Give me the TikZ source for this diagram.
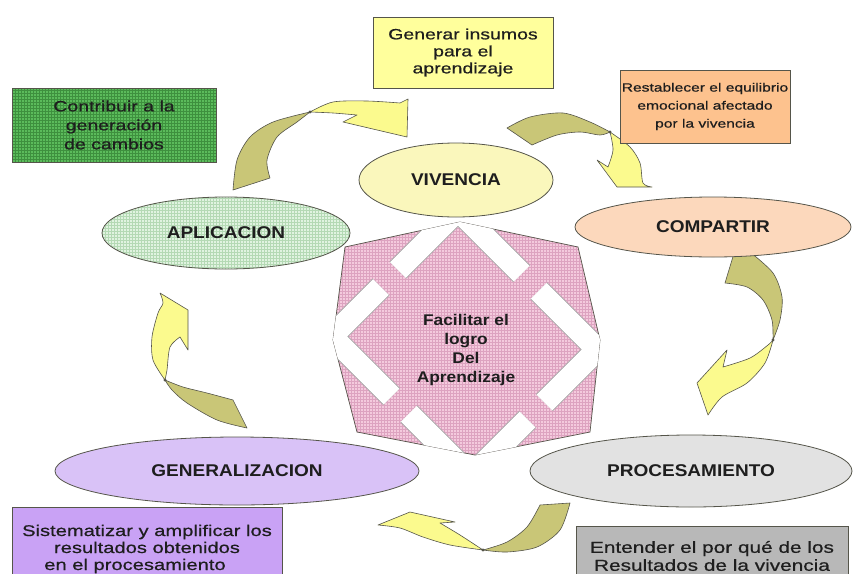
\documentclass[tikz,border=0pt]{standalone}
\usepackage{fontspec}
\setmainfont{Liberation Sans}[FakeStretch=1.12]
\newfontfamily\boxfont{Liberation Sans}[FakeStretch=1.3, FakeBold=0.6]
\usetikzlibrary{shapes.geometric,patterns,calc}
\definecolor{pinkf}{HTML}{F4CADD}
\definecolor{pinkp}{HTML}{DDA3C0}
\definecolor{greenbox}{HTML}{5BBB5B}
\definecolor{greenp}{HTML}{3E903E}
\definecolor{aplif}{HTML}{E0F3E0}
\definecolor{aplip}{HTML}{B4D9B4}
\definecolor{vivf}{HTML}{FAF7BC}
\definecolor{compf}{HTML}{FCD8BC}
\definecolor{genf}{HTML}{D9C2F7}
\definecolor{procf}{HTML}{E2E2E2}
\definecolor{genbox}{HTML}{FFFF9C}
\definecolor{resbox}{HTML}{FDC28E}
\definecolor{sisbox}{HTML}{C9A2F5}
\definecolor{entbox}{HTML}{B8B8B8}
\definecolor{olivef}{HTML}{C9C677}
\definecolor{yelf}{HTML}{FBFA8E}
\definecolor{edgec}{HTML}{55554A}
\definecolor{txt}{HTML}{1E1E1E}
\begin{document}
\begin{tikzpicture}[x=1pt,y=-1pt,
  ell/.style={ellipse, draw=edgec, line width=0.8pt, inner sep=0pt,
    font=\fontsize{17}{20}\selectfont\bfseries, text=txt},
  boxst/.style={rectangle, draw=edgec, line width=0.8pt, inner sep=0pt,
    align=center, text=txt},
  olive/.style={fill=olivef, draw=edgec, line width=0.6pt, line join=round},
  yell/.style={fill=yelf, draw=edgec, line width=0.6pt, line join=round},
  knot/.style={fill=edgec},
  barout/.style={draw=gray!70, line width=24pt, line join=miter},
  barin/.style={draw=white, line width=22pt, line join=miter}]
\useasboundingbox (0,0) rectangle (854,573);
\fill[white] (0,0) rectangle (854,573);

% central octagon
\def\octa{(460,222) -- (578,247) -- (600,340) -- (590,432) -- (475,455) -- (357,432) -- (333,340) -- (345,247) -- cycle}
\fill[pinkf] \octa;
\fill[pattern=grid, pattern color=pinkp] \octa;
\draw[edgec, line width=0.7pt] \octa;
\begin{scope}
  \clip \octa;
  \coordinate (dT) at (458,210);
  \coordinate (dR) at (597.5,349.5);
  \coordinate (dB) at (471,476);
  \coordinate (dL) at (331.5,336.5);
  \foreach \s in {barout,barin}{
    \draw[\s] ($(dT)!85pt!(dL)$) -- (dT) -- ($(dT)!90pt!(dR)$);
    \draw[\s] ($(dL)!70pt!(dT)$) -- (dL) -- ($(dL)!85pt!(dB)$);
    \draw[\s] ($(dR)!83pt!(dT)$) -- (dR) -- ($(dR)!75pt!(dB)$);
    \draw[\s] ($(dB)!88pt!(dL)$) -- (dB) -- ($(dB)!80pt!(dR)$);
  }
\end{scope}
\node[font=\fontsize{15.5}{19}\selectfont\bfseries, text=txt, align=center] (centro) at (466,350)
  {Facilitar el\\logro\\Del\\Aprendizaje};

% ribbon arrows
% A: aplicacion -> generar
\path[olive] plot[smooth] coordinates {(233,190) (237,160) (250,137) (273,122) (310,112)}
  -- plot[smooth] coordinates {(310,112) (297,122) (277,137) (267,160) (270,178)} -- cycle;
\path[yell] plot[smooth] coordinates {(310,112) (333,102) (367,101) (400,103)} -- (408,99) -- (407,137)
  -- (343,122) -- (357,115) -- plot[smooth] coordinates {(357,115) (333,113) (310,112)} -- cycle;
\fill[knot] (310,112) circle (1.6);
% B: vivencia -> compartir
\path[olive] plot[smooth] coordinates {(507,128) (530,117) (563,113) (590,122) (610,132)}
  -- plot[smooth] coordinates {(610,132) (600,135) (580,132) (557,135) (532,145)} -- cycle;
\path[yell] plot[smooth] coordinates {(610,132) (630,147) (640,163) (643,183) (652,187)} -- (617,187)
  -- (597,160) -- (608,167) -- plot[smooth] coordinates {(608,167) (613,150) (610,132)} -- cycle;
\fill[knot] (610,132) circle (1.6);
% C: compartir -> procesamiento
\path[olive] (735,250) -- plot[smooth] coordinates {(750,252) (773,273) (782,297) (780,320) (773,340)}
  -- plot[smooth] coordinates {(773,340) (772,320) (763,300) (747,287) (725,283)} -- cycle;
\path[yell] plot[smooth] coordinates {(773,340) (765,363) (747,383) (722,397) (708,415)} -- (697,383)
  -- (727,350) -- (723,367) -- plot[smooth] coordinates {(723,367) (750,358) (768,345) (773,340)} -- cycle;
\fill[knot] (773,340) circle (1.6);
% D: procesamiento -> generalizacion
\path[olive] (540,505) -- plot[smooth] coordinates {(570,503) (560,530) (537,547) (507,552) (483,550)}
  -- plot[smooth] coordinates {(483,550) (507,542) (527,527) (540,505)} -- cycle;
\path[yell] plot[smooth] coordinates {(483,550) (450,545) (423,537) (400,528) (378,525)} -- (410,512)
  -- (455,522) -- (440,523) -- plot[smooth] coordinates {(440,523) (460,535) (483,550)} -- cycle;
\fill[knot] (483,550) circle (1.6);
% E: generalizacion -> aplicacion
\path[olive] (247,428) -- plot[smooth] coordinates {(233,400) (207,393) (183,387) (165,380)}
  -- plot[smooth] coordinates {(165,380) (172,390) (187,403) (217,420) (247,428)} -- cycle;
\path[yell] plot[smooth] coordinates {(165,380) (153,360) (152,337) (158,313) (163,303) (160,293)} -- (188,310)
  -- (188,350) -- (180,337) -- plot[smooth] coordinates {(180,337) (170,347) (167,370) (165,380)} -- cycle;
\fill[knot] (165,380) circle (1.6);

% ellipses
\node[ell, fill=vivf, minimum width=194pt, minimum height=74pt] (viv) at (456,180) {VIVENCIA};
\node[ell, fill=compf, minimum width=276pt, minimum height=60pt] (comp) at (713,227) {COMPARTIR};
\node[ell, preaction={fill=aplif}, pattern=grid, pattern color=aplip, minimum width=248pt, minimum height=72pt] (apli) at (226,233) {APLICACION};
\node[ell, fill=genf, minimum width=364pt, minimum height=68pt] (gen) at (237,471) {GENERALIZACION};
\node[ell, fill=procf, minimum width=322pt, minimum height=72pt] (proc) at (691,471) {PROCESAMIENTO};

% boxes
\node[boxst, fill=genbox, minimum width=180pt, minimum height=71pt,
  font=\boxfont\fontsize{15}{17}\selectfont] (bgen) at (463,52.5)
  {Generar insumos\\para el\\aprendizaje};
\node[boxst, fill=resbox, minimum width=170pt, minimum height=73pt,
  font=\boxfont\fontsize{12}{18}\selectfont] (bres) at (705,106.5)
  {Restablecer el equilibrio\\emocional afectado\\por la vivencia};
\node[boxst, preaction={fill=greenbox}, pattern=grid, pattern color=greenp, minimum width=204pt, minimum height=74pt,
  font=\boxfont\fontsize{15}{19}\selectfont] (bcon) at (114,125)
  {Contribuir a la\\generación\\de cambios};
\node[boxst, fill=sisbox, minimum width=270pt, minimum height=84pt,
  font=\boxfont\fontsize{15.5}{17}\selectfont] (bsis) at (147,549)
  {Sistematizar y amplificar los\\resultados obtenidos\hspace*{14pt}\\en el procesamiento\hspace*{24pt}};
\node[boxst, fill=entbox, minimum width=272pt, minimum height=60pt,
  font=\boxfont\fontsize{16}{18}\selectfont] (bent) at (712,556)
  {Entender el por qué de los\\Resultados de la vivencia};
\end{tikzpicture}
\end{document}
